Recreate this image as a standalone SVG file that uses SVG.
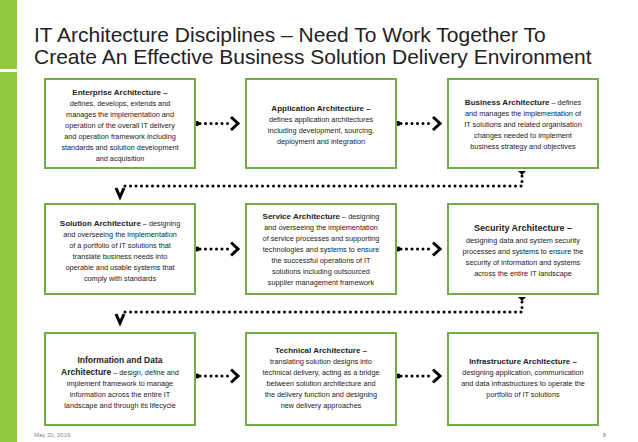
<svg xmlns="http://www.w3.org/2000/svg" width="638" height="442" viewBox="0 0 638 442">
<style>
.box{fill:#fff;stroke:#70ad47;stroke-width:2}
text{font-family:"Liberation Sans",Arial,sans-serif;fill:#222;text-anchor:middle;font-size:7.3px}
.b{font-weight:bold;font-size:8px}
.t{font-size:21px;text-anchor:start;fill:#222}
.dot{fill:none;stroke:#000;stroke-width:3;stroke-linecap:round;stroke-dasharray:0 5.5}
.arr{fill:none;stroke:#000;stroke-width:3}
.foot{font-size:6px;fill:#888}
</style>
<rect x="0" y="0" width="17" height="69" fill="#92c83e"/>
<rect x="0" y="72" width="17" height="370" fill="#92c83e"/>
<text class="t" x="34" y="42">IT Architecture Disciplines – Need To Work Together To</text>
<text class="t" x="34" y="64">Create An Effective Business Solution Delivery Environment</text>
<g id="connectors">
<path class="dot" d="M200 123.5 H230"/><circle cx="197" cy="123.5" r="2.5"/><path class="arr" d="M231 117 L238 123.5 L231 130"/>
<path class="dot" d="M401 123.5 H432"/><circle cx="398" cy="123.5" r="2.5"/><path class="arr" d="M433 117 L440 123.5 L433 130"/>
<path class="dot" d="M200 249 H230"/><circle cx="197" cy="249" r="2.5"/><path class="arr" d="M231 242.5 L238 249 L231 255.5"/>
<path class="dot" d="M401 249 H432"/><circle cx="398" cy="249" r="2.5"/><path class="arr" d="M433 242.5 L440 249 L433 255.5"/>
<path class="dot" d="M200 376 H230"/><circle cx="197" cy="376" r="2.5"/><path class="arr" d="M231 369.5 L238 376 L231 382.5"/>
<path class="dot" d="M401 376 H432"/><circle cx="398" cy="376" r="2.5"/><path class="arr" d="M433 369.5 L440 376 L433 382.5"/>
<path d="M518 171 H526 L522 175 Z"/>
<path class="dot" d="M522 176 V186 H124"/><path class="arr" d="M116 188 L120 197 L124 188"/>
<path d="M518 297 H526 L522 301 Z"/>
<path class="dot" d="M522 302 V312 H124"/><path class="arr" d="M116 314 L120 323 L124 314"/>
</g>
<g id="enterprise"><rect class="box" x="45" y="79" width="150" height="89"/>
<text x="120" y="95" class="b">Enterprise Architecture –</text>
<text x="120" y="106">defines, develops, extends and</text>
<text x="120" y="117">manages the implementation and</text>
<text x="120" y="128">operation of the overall IT delivery</text>
<text x="120" y="139">and operation framework including</text>
<text x="120" y="150">standards and solution development</text>
<text x="120" y="161">and acquisition</text></g>
<g id="application"><rect class="box" x="246" y="79" width="150" height="89"/>
<text x="321" y="111" class="b">Application Architecture –</text>
<text x="321" y="122">defines application architectures</text>
<text x="321" y="133">including development, sourcing,</text>
<text x="321" y="144">deployment and integration</text></g>
<g id="business"><rect class="box" x="448" y="79" width="150" height="89"/>
<text x="523" y="105"><tspan class="b">Business Architecture</tspan> – defines</text>
<text x="523" y="116">and manages the implementation of</text>
<text x="523" y="127">IT solutions and related organisation</text>
<text x="523" y="138">changes needed to implement</text>
<text x="523" y="149">business strategy and objectives</text></g>
<g id="solution"><rect class="box" x="45" y="204" width="150" height="90"/>
<text x="120" y="226"><tspan class="b">Solution Architecture</tspan> – designing</text>
<text x="120" y="237">and overseeing the implementation</text>
<text x="120" y="248">of a portfolio of IT solutions that</text>
<text x="120" y="259">translate business needs into</text>
<text x="120" y="270">operable and usable systems that</text>
<text x="120" y="281">comply with standards</text></g>
<g id="service"><rect class="box" x="246" y="204" width="150" height="90"/>
<text x="321" y="219"><tspan class="b">Service Architecture</tspan> – designing</text>
<text x="321" y="230">and overseeing the implementation</text>
<text x="321" y="241">of service processes and supporting</text>
<text x="321" y="252">technologies and systems to ensure</text>
<text x="321" y="263">the successful operations of IT</text>
<text x="321" y="274">solutions including outsourced</text>
<text x="321" y="285">supplier management framework</text></g>
<g id="security"><rect class="box" x="448" y="204" width="150" height="90"/>
<text x="523" y="231" class="b" style="font-size:9px">Security Architecture –</text>
<text x="523" y="243">designing data and system security</text>
<text x="523" y="254">processes and systems to ensure the</text>
<text x="523" y="265">security of information and systems</text>
<text x="523" y="276">across the entire IT landscape</text></g>
<g id="information"><rect class="box" x="45" y="333" width="150" height="92"/>
<text x="120" y="363" class="b" style="font-size:8.5px">Information and Data</text>
<text x="120" y="375"><tspan class="b" style="font-size:8.5px">Architecture</tspan> – design, define and</text>
<text x="120" y="386">implement framework to manage</text>
<text x="120" y="397">information across the entire IT</text>
<text x="120" y="408">landscape and through its lifecycle</text></g>
<g id="technical"><rect class="box" x="246" y="333" width="150" height="92"/>
<text x="321" y="353" class="b">Technical Architecture –</text>
<text x="321" y="364">translating solution designs into</text>
<text x="321" y="375">technical delivery, acting as a bridge</text>
<text x="321" y="386">between solution architecture and</text>
<text x="321" y="397">the delivery function and designing</text>
<text x="321" y="408">new delivery approaches</text></g>
<g id="infrastructure"><rect class="box" x="448" y="333" width="150" height="92"/>
<text x="523" y="364" class="b">Infrastructure Architecture –</text>
<text x="523" y="375">designing application, communication</text>
<text x="523" y="386">and data infrastructures to operate the</text>
<text x="523" y="397">portfolio of IT solutions</text></g>
<text class="foot" x="34" y="437" style="text-anchor:start">May 20, 2019</text>
<text class="foot" x="606" y="437" style="text-anchor:end">8</text>
</svg>
